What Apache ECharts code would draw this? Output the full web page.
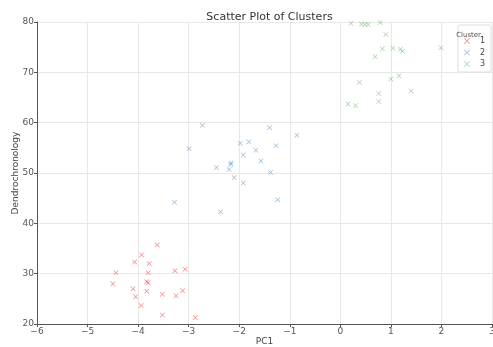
<!DOCTYPE html>
<html>
<head>
<meta charset="utf-8">
<script src="https://cdn.jsdelivr.net/npm/echarts@6/dist/echarts.min.js"></script>
<style>
html,body{margin:0;padding:0;background:#fff;}
#chart{width:493px;height:347px;}
</style>
</head>
<body>
<div id="chart"></div>
<script>
const clusterNames = ['1', '2', '3'];
const clusterColors = ['#e41a1c', '#377eb8', '#4daf4a'];
const xTicks = { min: -6, max: 3, interval: 1 };
const yTicks = { min: 20, max: 80, interval: 10 };

const cluster1 = [
  [-3.62, 35.7], [-3.93, 33.7], [-4.07, 32.3], [-3.78, 32.0], [-4.44, 30.2],
  [-3.80, 30.2], [-3.27, 30.6], [-3.07, 30.9], [-4.50, 28.0], [-3.83, 28.4],
  [-3.80, 28.2], [-4.10, 27.0], [-3.83, 26.5], [-3.12, 26.6], [-4.05, 25.4],
  [-3.52, 25.9], [-3.25, 25.6], [-3.94, 23.7], [-3.52, 21.8], [-2.87, 21.3]
];
const cluster2 = [
  [-2.73, 59.5], [-1.40, 59.0], [-0.86, 57.5], [-2.99, 54.8], [-1.98, 55.9],
  [-1.81, 56.2], [-1.27, 55.4], [-1.67, 54.5], [-1.92, 53.6], [-1.57, 52.4],
  [-2.16, 52.0], [-2.17, 51.7], [-2.45, 51.1], [-2.20, 50.7], [-1.38, 50.1],
  [-2.10, 49.1], [-1.92, 48.0], [-1.24, 44.7], [-3.28, 44.2], [-2.37, 42.3]
];
const cluster3 = [
  [0.21, 79.7], [0.42, 79.6], [0.49, 79.5], [0.55, 79.5], [0.79, 79.9],
  [0.90, 77.5], [0.83, 74.7], [1.04, 74.8], [1.19, 74.6], [1.23, 74.2],
  [1.99, 74.9], [0.69, 73.1], [0.38, 68.0], [1.00, 68.7], [1.16, 69.3],
  [1.40, 66.3], [0.76, 65.8], [0.76, 64.2], [0.15, 63.7], [0.30, 63.4]
];
const clusterData = [cluster1, cluster2, cluster3];

const FONT = 'DejaVu Sans';
const crossPath = 'path://M0,1L1,0L5,4L9,0L10,1L6,5L10,9L9,10L5,6L1,10L0,9L4,5Z';
const minusFmt = v => String(v).replace('-', '\u2212');

const chart = echarts.init(document.getElementById('chart'), null, { renderer: 'canvas' });
chart.setOption({
  animation: false,
  backgroundColor: '#ffffff',
  title: [
    {
      text: 'Scatter Plot of Clusters',
      left: 264.5, top: 7, textAlign: 'center',
      textStyle: { fontFamily: FONT, fontSize: 11, fontWeight: 'normal', color: '#333' }
    },
    {
      text: 'Cluster',
      right: 7, top: 27,
      textStyle: { fontFamily: FONT, fontSize: 7, fontWeight: 'normal', color: '#555' }
    }
  ],
  legend: {
    orient: 'vertical',
    right: 2, top: 25,
    padding: [12, 6, 4, 6],
    backgroundColor: '#fff',
    borderColor: '#ddd', borderWidth: 1, borderRadius: 2,
    itemWidth: 6, itemHeight: 6, itemGap: 3.5,
    icon: crossPath,
    textStyle: { fontFamily: FONT, fontSize: 8, color: '#444', padding: [0, 0, 0, 5] },
    data: clusterNames
  },
  grid: { left: 37, right: 1, top: 22, bottom: 23, containLabel: false, outerBoundsMode: 'none' },
  xAxis: {
    type: 'value',
    min: xTicks.min, max: xTicks.max, interval: xTicks.interval,
    name: 'PC1', nameLocation: 'middle', nameGap: 13, nameMoveOverlap: false,
    nameTextStyle: { fontFamily: FONT, fontSize: 9, color: '#444' },
    axisLine: { show: true, onZero: false, lineStyle: { color: '#555', width: 1 } },
    axisTick: { show: true, length: 3, lineStyle: { color: '#555' } },
    axisLabel: { fontFamily: FONT, fontSize: 9, color: '#555', margin: 3, formatter: minusFmt },
    splitLine: { show: true, lineStyle: { color: '#e8e8e8', width: 1 } }
  },
  yAxis: {
    type: 'value',
    min: yTicks.min, max: yTicks.max, interval: yTicks.interval,
    name: 'Dendrochronology', nameLocation: 'middle', nameGap: 17, nameMoveOverlap: false,
    nameTextStyle: { fontFamily: FONT, fontSize: 9, color: '#444' },
    axisLine: { show: true, onZero: false, lineStyle: { color: '#555', width: 1 } },
    axisTick: { show: true, length: 3, lineStyle: { color: '#555' } },
    axisLabel: { fontFamily: FONT, fontSize: 9, color: '#555', margin: 3 },
    splitLine: { show: true, lineStyle: { color: '#e8e8e8', width: 1 } }
  },
  series: clusterNames.map((name, i) => ({
    name: name,
    type: 'scatter',
    symbol: crossPath,
    symbolSize: 5,
    itemStyle: { color: clusterColors[i], opacity: 0.5 },
    emphasis: { disabled: true },
    data: clusterData[i]
  }))
});
</script>
</body>
</html>
